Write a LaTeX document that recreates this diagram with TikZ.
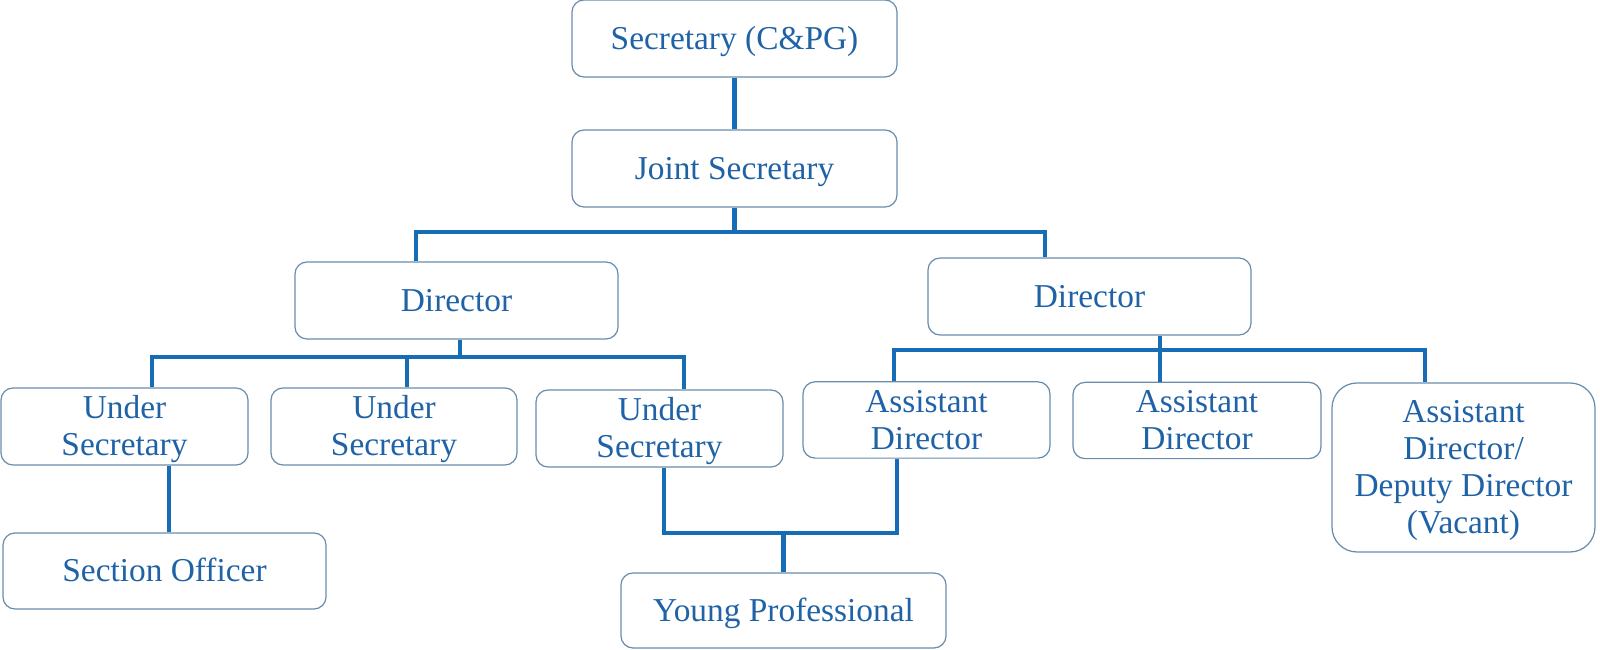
\documentclass[tikz,border=0pt]{standalone}
\usepackage{fontspec}
\setmainfont{Liberation Serif}
\usepackage{tikz}
\usetikzlibrary{positioning,calc}
\definecolor{orgtext}{RGB}{31,98,166}
\definecolor{orgline}{RGB}{23,109,181}
\definecolor{orgframe}{RGB}{105,140,172}
\newcommand{\capstrut}{\rule{0pt}{17.3pt}}

\tikzset{
  post/.style={draw=orgframe, line width=0.7pt, rounded corners=0.24cm,
    text=orgtext, align=center, minimum height=1.54cm, inner sep=0pt,
    font=\fontsize{19}{21.1}\selectfont,
    execute at begin node={\capstrut},
    execute at end node={\rule[-5pt]{0pt}{5pt}}},
  link/.style={draw=orgline, line width=2.3pt}
}

\begin{document}
\begin{tikzpicture}
    \useasboundingbox (0,0) rectangle (32,13);

    % Top
    \node[post, minimum width=6.5cm] (sec) at (14.69, 12.23) {Secretary (C\&PG)};
    \node[post, minimum width=6.5cm] (joint) at (14.69, 9.63) {Joint Secretary};

    % Directors
    \node[post, minimum width=6.46cm] (dirL) at (9.13, 6.99) {Director};
    \node[post, minimum width=6.46cm] (dirR) at (21.79, 7.07) {Director};

    % Under Secretaries
    \node[post, minimum width=4.94cm] (us1) at (2.49, 4.47) {\capstrut Under\\Secretary};
    \node[post, minimum width=4.92cm] (us2) at (7.88, 4.47) {\capstrut Under\\Secretary};
    \node[post, minimum width=4.94cm] (us3) at (13.19, 4.43) {\capstrut Under\\Secretary};

    % Assistant Directors
    \node[post, minimum width=4.94cm, minimum height=1.52cm] (ad1) at (18.53, 4.6) {\capstrut Assistant\\Director};
    \node[post, minimum width=4.96cm, minimum height=1.52cm] (ad2) at (23.94, 4.59) {\capstrut Assistant\\Director};
    \node[post, minimum width=5.26cm, minimum height=3.38cm, rounded corners=0.5cm] (ad3) at (29.27, 3.65)
        {\capstrut Assistant\\Director/\\Deputy Director\\(Vacant)};

    % Bottom
    \node[post, minimum width=6.46cm, minimum height=1.52cm] (so) at (3.29, 1.58) {Section Officer};
    \node[post, minimum width=6.5cm, minimum height=1.5cm] (yp) at (15.67, 0.79) {Young Professional};

    % Bus points
    \coordinate (jL) at (8.32, 8.36);
    \coordinate (jR) at (20.9, 8.36);
    \coordinate (dL) at (3.04, 5.86);
    \coordinate (dM) at (8.14, 5.86);
    \coordinate (dR) at (13.68, 5.86);
    \coordinate (rL) at (17.88, 6.0);
    \coordinate (rM) at (23.2, 6.0);
    \coordinate (rR) at (28.5, 6.0);
    \coordinate (sx) at (3.38, 2.5);
    \coordinate (yL) at (13.28, 2.34);
    \coordinate (yR) at (17.94, 2.34);

    % Edges
    \draw[link] (sec) -- (joint);
    \draw[link] (joint) -- (joint |- jL);
    \draw[link] (dirL.north -| jL) -- (jL) -- (jR) -- (dirR.north -| jR);
    \draw[link] ([xshift=0.07cm]dirL.south) -- ([xshift=0.07cm]dirL.south |- dL);
    \draw[link] (us1.north -| dL) -- (dL) -- (dR) -- (us3.north -| dR);
    \draw[link] (dM) -- (us2.north -| dM);
    \draw[link] (dirR.south -| rM) -- (ad2.north -| rM);
    \draw[link] (ad1.north -| rL) -- (rL) -- (rR) -- (ad3.north -| rR);
    \draw[link] (us1.south -| sx) -- (so.north -| sx);
    \draw[link] (us3.south -| yL) -- (yL) -- (yR) -- (ad1.south -| yR);
    \draw[link] (yp.north) -- (yp.north |- yL);
\end{tikzpicture}
\end{document}
